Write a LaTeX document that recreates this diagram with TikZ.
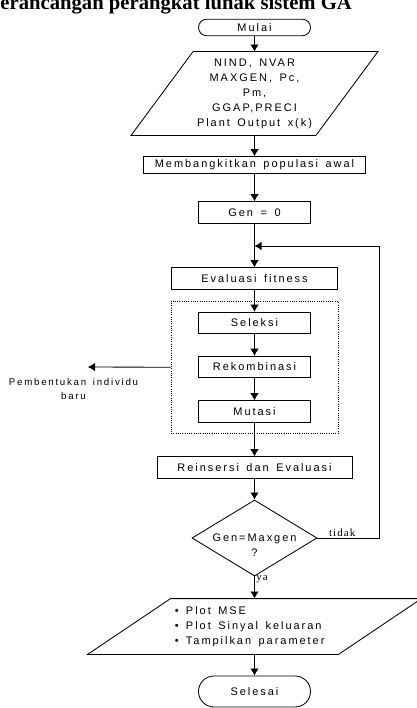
\documentclass[tikz,border=0pt]{standalone}
\usepackage{fontspec}
\setmainfont{Liberation Sans}[LetterSpace=18,WordSpace=1.5]
\newfontfamily\notefont{Liberation Serif}[LetterSpace=10]
\newfontfamily\titlefont{Liberation Serif}
\usetikzlibrary{arrows.meta,calc,fit,positioning,shapes}
\tikzset{
flow/.style={>={Latex[length=5pt,width=6pt]},semithick,x=0.025cm,y=-0.025cm,
font=\fontsize{7.8}{10.7}\selectfont},
proc/.style={rectangle,draw,minimum width=#1,minimum height=0.54cm,inner sep=0pt},
term/.style={rounded rectangle,draw,minimum width=2.8cm,minimum height=#1,inner sep=0pt},
decision/.style={diamond,draw,aspect=1.64,inner sep=0pt,minimum width=3.125cm,
minimum height=1.9cm},
note/.style={font=\notefont\fontsize{7.8}{9}\selectfont,inner sep=1pt},
}
\newcommand{\butir}{\makebox[0.275cm][l]{\textbullet}}
\begin{document}
\begin{tikzpicture}[flow]
\useasboundingbox (0,0) rectangle (416,708);
\node[anchor=base west,inner sep=0pt,font=\titlefont\bfseries\fontsize{14.7}{17}\selectfont] (judul) at (0,10) {erancangan perangkat lunak sistem GA};

\node[term=0.415cm] (mulai) at (254.5,27.5) {Mulai};
\node[align=center,minimum width=4.6cm,minimum height=2.075cm,inner sep=0pt] (input) at (254.5,93.5) {NIND, NVAR\\MAXGEN, Pc,\\Pm,\\GGAP,PRECI\\Plant Output x(k)};
\draw ([xshift=0.775cm]input.north west) -- ([xshift=0.775cm]input.north east) -- ([xshift=-0.775cm]input.south east) -- ([xshift=-0.775cm]input.south west) -- cycle;
\node[proc=5.55cm,minimum height=0.415cm] (bangkit) at (254.5,165) {Membangkitkan populasi awal};
\node[proc=2.8cm] (gen) at (254.5,212.5) {Gen = 0};
\coordinate (balik) at (254.5,246);
\node[proc=4.15cm] (evaluasi) at (254.5,278.5) {Evaluasi fitness};
\node[proc=2.8cm] (seleksi) at (254.5,323) {Seleksi};
\node[proc=2.8cm] (rekombinasi) at (254.5,367) {Rekombinasi};
\node[proc=2.8cm] (mutasi) at (254.5,411.5) {Mutasi};
\node[draw,densely dotted,fit=(seleksi)(mutasi),inner xsep=0.675cm,inner ysep=0.265cm] (grup) {};
\coordinate (kiri) at (88,367);
\node[align=center,font=\fontsize{6.9}{10}\selectfont] (ket) at (73.5,389) {Pembentukan individu\\baru};
\node[proc=4.875cm] (reinsersi) at (254.5,467.5) {Reinsersi dan Evaluasi};
\node[decision,label={[align=center,yshift=-5.3pt]center:Gen=Maxgen\\?}] (cek) at (254.5,538) {};
\node[minimum width=6.25cm,minimum height=1.375cm,inner sep=0pt] (out) at (254.5,626.5) {\makebox[3.975cm][l]{\begin{tabular}{@{}l@{}}\butir Plot MSE\\\butir Plot Sinyal keluaran\\\butir Tampilkan parameter\end{tabular}}};
\draw ([xshift=1.0375cm]out.north west) -- ([xshift=1.0375cm]out.north east) -- ([xshift=-1.0375cm]out.south east) -- ([xshift=-1.0375cm]out.south west) -- cycle;
\node[term=0.775cm] (selesai) at (254.5,691.5) {Selesai};

\draw[->] (mulai) -- (input);
\draw[->] (input) -- (bangkit);
\draw[->] (bangkit) -- (gen);
\draw[->] (gen) -- (evaluasi);
\draw[->] (evaluasi) -- (seleksi);
\draw[->] (seleksi) -- (rekombinasi);
\draw[->] (rekombinasi) -- (mutasi);
\draw[->] (mutasi) -- (reinsersi);
\draw[->] (grup.west) -- (kiri);
\draw[->] (reinsersi) -- (cek);
\draw[->] (cek) -- node[note,pos=0.1,right]{ya} (out);
\draw[->] (cek.east) -- node[note,pos=0.4,above]{tidak} ++(62,0) |- (balik);
\draw[->] (out) -- (selesai);
\end{tikzpicture}
\end{document}
